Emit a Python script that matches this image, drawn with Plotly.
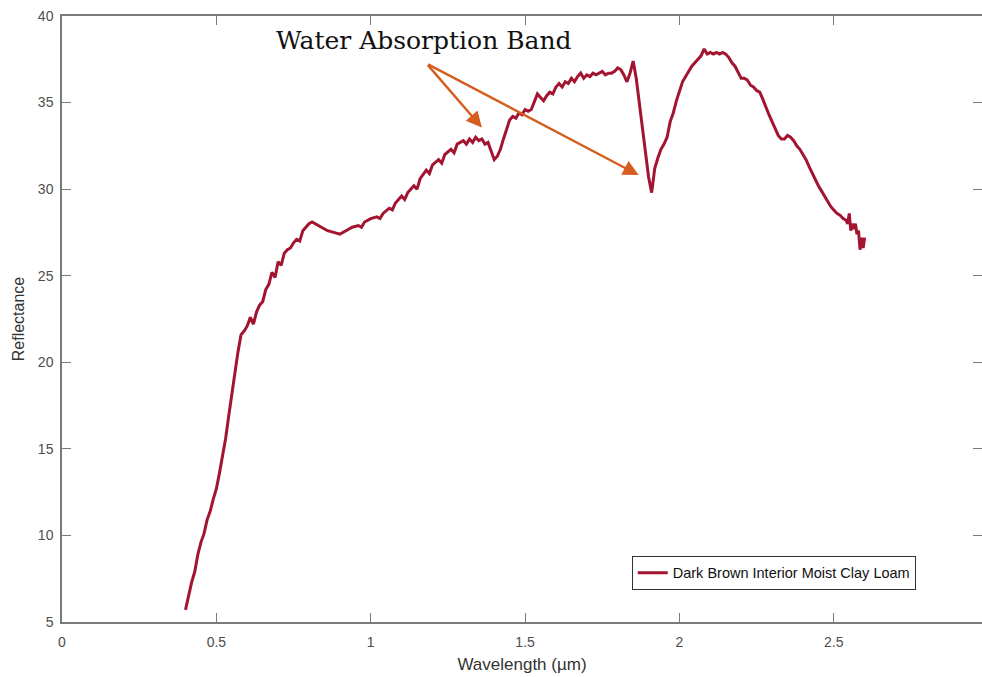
import plotly.graph_objects as go

# Reflectance spectrum of a dark brown interior moist clay loam sample
wavelength_um = [
    0.40, 0.41, 0.42, 0.43, 0.44, 0.45, 0.46, 0.47, 0.48, 0.49,
    0.50, 0.51, 0.52, 0.53, 0.54, 0.55, 0.56, 0.57, 0.58, 0.59,
    0.60, 0.61, 0.62, 0.63, 0.64, 0.65, 0.66, 0.67, 0.68, 0.69,
    0.70, 0.71, 0.72, 0.73, 0.74, 0.75, 0.76, 0.77, 0.78, 0.79,
    0.80, 0.81, 0.82, 0.83, 0.84, 0.86, 0.88, 0.90, 0.92, 0.94,
    0.96, 0.97, 0.98, 1.00, 1.02, 1.03, 1.04, 1.06, 1.07, 1.08,
    1.10, 1.11, 1.12, 1.14, 1.15, 1.16, 1.18, 1.19, 1.20, 1.22,
    1.23, 1.24, 1.26, 1.27, 1.28, 1.30, 1.31, 1.32, 1.33, 1.34,
    1.35, 1.36, 1.37, 1.38, 1.39, 1.40, 1.41, 1.42, 1.43, 1.44,
    1.45, 1.46, 1.47, 1.48, 1.49, 1.50, 1.51, 1.52, 1.53, 1.54,
    1.55, 1.56, 1.57, 1.58, 1.59, 1.60, 1.61, 1.62, 1.63, 1.64,
    1.65, 1.66, 1.67, 1.68, 1.69, 1.70, 1.71, 1.72, 1.73, 1.74,
    1.75, 1.76, 1.77, 1.78, 1.79, 1.80, 1.81, 1.82, 1.83, 1.84,
    1.85, 1.86, 1.87, 1.88, 1.89, 1.90, 1.91, 1.92, 1.93, 1.94,
    1.95, 1.96, 1.97, 1.98, 1.99, 2.00, 2.01, 2.02, 2.03, 2.04,
    2.05, 2.06, 2.07, 2.08, 2.09, 2.10, 2.11, 2.12, 2.13, 2.14,
    2.15, 2.16, 2.17, 2.18, 2.19, 2.20, 2.21, 2.22, 2.23, 2.24,
    2.25, 2.26, 2.27, 2.28, 2.29, 2.30, 2.31, 2.32, 2.33, 2.34,
    2.35, 2.36, 2.37, 2.38, 2.39, 2.40, 2.41, 2.42, 2.43, 2.44,
    2.45, 2.46, 2.47, 2.48, 2.49, 2.50, 2.51, 2.52, 2.53, 2.54,
    2.545, 2.55, 2.555, 2.56, 2.565, 2.57, 2.575, 2.58, 2.585, 2.59,
    2.595, 2.60,
]
reflectance = [
    5.7, 6.5, 7.3, 7.9, 8.9, 9.6, 10.1, 10.9, 11.4, 12.1,
    12.7, 13.6, 14.6, 15.6, 16.9, 18.2, 19.6, 20.6, 21.6, 21.8,
    22.1, 22.6, 22.2, 22.9, 23.3, 23.5, 24.2, 24.5, 25.2, 24.9,
    25.8, 25.6, 26.3, 26.5, 26.6, 26.9, 27.1, 27.0, 27.6, 27.8,
    28.0, 28.1, 28.0, 27.9, 27.8, 27.6, 27.5, 27.4, 27.6, 27.8,
    27.9, 27.8, 28.1, 28.3, 28.4, 28.3, 28.6, 28.9, 28.8, 29.2,
    29.6, 29.4, 29.8, 30.2, 30.0, 30.6, 31.1, 30.9, 31.4, 31.7,
    31.5, 32.0, 32.3, 32.1, 32.6, 32.8, 32.6, 32.9, 32.7, 33.0,
    32.8, 32.9, 32.6, 32.7, 32.2, 31.7, 31.9, 32.3, 32.9, 33.5,
    34.0, 34.2, 34.1, 34.4, 34.3, 34.6, 34.5, 34.6, 35.0, 35.5,
    35.3, 35.1, 35.4, 35.6, 35.5, 35.9, 36.1, 35.9, 36.2, 36.1,
    36.4, 36.2, 36.5, 36.7, 36.4, 36.6, 36.5, 36.7, 36.6, 36.7,
    36.8, 36.6, 36.7, 36.7, 36.8, 37.0, 36.9, 36.6, 36.2, 36.7,
    37.4, 36.4, 35.0, 33.6, 32.2, 30.7, 29.8, 31.2, 31.8, 32.3,
    32.6, 33.0, 33.9, 34.4, 35.1, 35.6, 36.2, 36.5, 36.8, 37.1,
    37.3, 37.5, 37.7, 38.1, 37.8, 37.9, 37.8, 37.9, 37.8, 37.9,
    37.8, 37.6, 37.3, 37.1, 36.7, 36.4, 36.4, 36.3, 36.0, 35.9,
    35.7, 35.6, 35.2, 34.7, 34.3, 33.9, 33.5, 33.1, 32.9, 32.9,
    33.1, 33.0, 32.8, 32.5, 32.3, 32.0, 31.7, 31.3, 30.9, 30.5,
    30.2, 29.9, 29.6, 29.3, 29.0, 28.8, 28.6, 28.5, 28.3, 28.2,
    28.0, 28.6, 27.6, 28.0, 27.7, 28.0, 27.4, 27.6, 26.5, 27.2,
    26.6, 27.2,
]

# Annotation text and arrow geometry (data units)
band_label = "Water Absorption Band"
label_pos = (1.172, 38.6)
arrow_tail = (1.181, 37.25)
arrow_heads = [(1.36, 33.56), (1.868, 30.81)]

line_color = "#A2142F"
arrow_color = "#D55E1F"
axis_color = "#7a7a7a"

fig = go.Figure()
fig.add_trace(go.Scatter(
    x=wavelength_um, y=reflectance, mode="lines",
    name="Dark Brown Interior Moist Clay Loam",
    line=dict(color=line_color, width=3),
))
# Invisible helper on the secondary axis so it gets drawn (right-side ticks)
fig.add_trace(go.Scatter(
    x=[None], y=[None], yaxis="y2", showlegend=False, hoverinfo="skip",
))

tick_font = dict(family="Liberation Sans, Arial, sans-serif", size=14, color="#4d4d4d")

fig.update_layout(
    width=982, height=677,
    margin=dict(l=62, r=0, t=16, b=55),
    paper_bgcolor="white", plot_bgcolor="white",
    showlegend=True,
    legend=dict(
        x=0.928, y=0.053, xanchor="right", yanchor="bottom",
        bgcolor="white", bordercolor="#333333", borderwidth=1,
        font=dict(family="Liberation Sans, Arial, sans-serif", size=14.5, color="#111111"),
        itemwidth=30, tracegroupgap=0,
    ),
    xaxis=dict(
        range=[0, 2.98], tickvals=[0, 0.5, 1, 1.5, 2, 2.5, 3],
        ticktext=["0", "0.5", "1", "1.5", "2", "2.5", "3"],
        ticks="inside", ticklen=9, tickwidth=1.2, tickcolor=axis_color,
        showline=True, linecolor=axis_color, linewidth=1.5, mirror="ticks",
        showgrid=False, zeroline=False, tickfont=tick_font,
        ticklabelstandoff=6,
        title=dict(text="Wavelength (µm)",
                   font=dict(family="Liberation Sans, Arial, sans-serif", size=17, color="#333333"),
                   standoff=10),
    ),
    yaxis=dict(
        range=[5, 40], tickvals=[5, 10, 15, 20, 25, 30, 35, 40],
        ticks="inside", ticklen=9, tickwidth=1.2, tickcolor=axis_color,
        showline=True, linecolor=axis_color, linewidth=1.5, mirror=False,
        showgrid=False, zeroline=False, tickfont=tick_font,
        ticklabelstandoff=4,
        title=dict(text="Reflectance",
                   font=dict(family="Liberation Sans, Arial, sans-serif", size=16, color="#333333"),
                   standoff=9),
    ),
    yaxis2=dict(
        range=[5, 40], tickvals=[5, 10, 15, 20, 25, 30, 35, 40],
        overlaying="y", side="right", anchor="x",
        ticks="inside", ticklen=9, tickwidth=1.2, tickcolor=axis_color,
        showline=False, showgrid=False, zeroline=False, showticklabels=False,
    ),
)

fig.add_annotation(
    x=label_pos[0], y=label_pos[1], xref="x", yref="y",
    text=band_label, showarrow=False,
    font=dict(family="DejaVu Serif, serif", size=25, color="#111111"),
)
for hx, hy in arrow_heads:
    fig.add_annotation(
        x=hx, y=hy, ax=arrow_tail[0], ay=arrow_tail[1],
        xref="x", yref="y", axref="x", ayref="y",
        text="", showarrow=True, arrowhead=2, arrowsize=1.3,
        arrowwidth=2.4, arrowcolor=arrow_color, standoff=0,
    )

fig.write_html("out.html")
